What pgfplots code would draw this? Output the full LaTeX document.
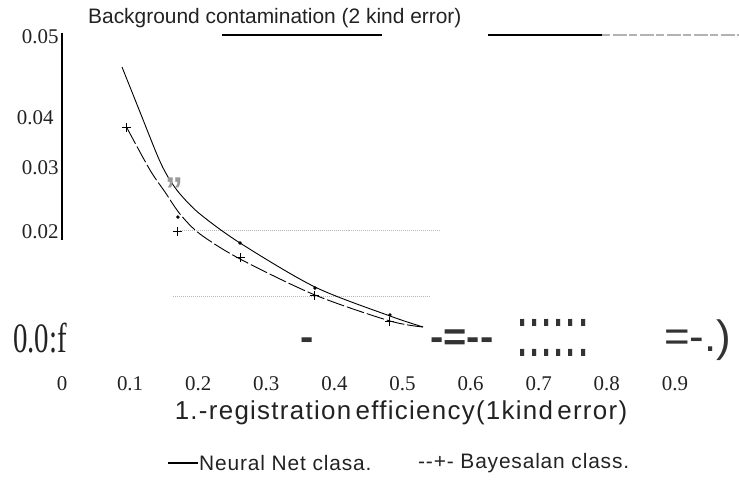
\documentclass[border=0pt]{standalone}
\usepackage{fontspec}
\setmainfont{Liberation Serif}
\newfontfamily\sans{Liberation Sans}
\usepackage{pgfplots}
\pgfplotsset{compat=1.18}
\definecolor{txt}{HTML}{222222}
\definecolor{garb}{HTML}{333333}
\begin{document}
\begin{tikzpicture}
\begin{axis}[
  at={(62bp,112bp)}, anchor=south west,
  scale only axis, width=677.6bp, height=333bp,
  xmin=0, xmax=0.995, ymin=0, ymax=0.05,
  clip=false,
  axis line style={draw=none},
  major tick length=0pt,
  scaled y ticks=false, scaled x ticks=false,
  xtick={0,0.1,0.2,0.3,0.4,0.5,0.6,0.7,0.8,0.9},
  xticklabels={0,0.1,0.2,0.3,0.4,0.5,0.6,0.7,0.8,0.9},
  ytick={0.02,0.03,0.04,0.05},
  yticklabels={{\vphantom{0}\smash{\raisebox{5bp}{0.02}}},{\vphantom{0}\smash{\raisebox{3bp}{0.03}}},{\vphantom{0}\smash{\raisebox{-14bp}{0.04\kern5bp}}},0.05},
  /pgf/number format/assume math mode=true,
  tick label style={font=\fontsize{21}{21}\selectfont, text=txt},
  xticklabel style={yshift=-3bp},
]
% decorative partial frame lines
\draw[black, line width=1.2bp] (axis cs:0,0.0506) -- (axis cs:0,0.0195);
\draw[black, line width=1.2bp] (axis cs:0.235,0.0503) -- (axis cs:0.470,0.0503);
\draw[black, line width=1.2bp] (axis cs:0.6256,0.0503) -- (axis cs:0.793,0.0503);
\draw[gray!60, line width=2.2bp, dash pattern=on 8bp off 3bp on 14bp off 2bp] (axis cs:0.793,0.0503) -- (axis cs:0.995,0.0503);
% dotted grey guide lines
\draw[gray!55, densely dotted, line width=1bp] (axis cs:0.173,0.0209) -- (axis cs:0.555,0.0209);
\draw[gray!55, densely dotted, line width=1bp] (axis cs:0.163,0.0110) -- (axis cs:0.540,0.0110);

% Neural Net classifier: curve
\addplot[black, line width=0.9bp, smooth] coordinates {
 (0.0881,0.04550) (0.1145,0.03874) (0.1410,0.03198) (0.1557,0.02898)
 (0.1733,0.02643) (0.2026,0.02342) (0.2614,0.01907) (0.3715,0.01246)
 (0.4816,0.00811) (0.5301,0.00646)
};
% Neural Net classifier: points
\addplot[only marks, black, mark=*, mark size=1.5bp] coordinates {
 (0.1703,0.02297) (0.2614,0.01907) (0.3715,0.01231) (0.4816,0.00826)
};
% Bayesian classifier: curve
\addplot[black, line width=0.9bp, smooth, dash pattern=on 18bp off 3bp] coordinates {
 (0.0954,0.03634) (0.1292,0.03003) (0.1512,0.02673) (0.1733,0.02342)
 (0.2026,0.02042) (0.2614,0.01667) (0.3715,0.01126) (0.4816,0.00736)
 (0.5301,0.00646)
};
% Bayesian classifier: points
\addplot[only marks, black, mark=+, mark size=4.5bp, mark options={line width=1bp}] coordinates {
 (0.0954,0.03634) (0.1703,0.02087) (0.2614,0.01682) (0.3715,0.01126) (0.4816,0.00721)
};
\end{axis}
% texts
\node[anchor=west, inner sep=0pt, font=\sans\fontsize{21}{21}\selectfont, text=txt] at (88bp,464bp) {Background contamination (2 kind error)};
\node[inner sep=0pt, font=\sans\fontsize{26}{26}\selectfont\addfontfeatures{LetterSpace=5}, text=txt] at (401bp,69bp) {1.-registration\,efficiency(1kind\,error)};
\draw[black, line width=1.3bp] (168bp,19bp) -- (198bp,19bp);
\node[anchor=west, inner sep=0pt, font=\sans\fontsize{21}{21}\selectfont\addfontfeatures{LetterSpace=4}, text=txt] at (199bp,19bp) {Neural Net clasa.};
\node[anchor=west, inner sep=0pt, font=\sans\fontsize{21}{21}\selectfont\addfontfeatures{LetterSpace=4}, text=txt] at (418bp,19bp) {-{}-+- Bayesalan class.};
% garbled scan row
\node[anchor=base west, inner sep=0pt, text=txt] at (13bp,129bp) {\scalebox{0.69}[1]{\fontsize{42}{42}\selectfont 0.0:f}};
\node[anchor=base, inner sep=0pt, text=garb, font=\sans\bfseries\fontsize{40}{40}\selectfont] at (307bp,131bp) {-};
\node[anchor=base west, inner sep=0pt, text=garb, font=\sans\bfseries\fontsize{40}{40}\selectfont] at (430bp,131bp) {-{}={}-{}-};
\node[anchor=base west, inner sep=0pt, text=garb, font=\sans\fontsize{44}{44}\selectfont] at (516bp,125bp) {\scalebox{1}[1.6]{::::::}};
\node[anchor=base west, inner sep=0pt, text=garb, font=\sans\fontsize{44}{44}\selectfont] at (664bp,130bp) {={}-.)};
\node[inner sep=0pt, text=gray!80, font=\sans\bfseries\fontsize{36}{36}\selectfont] at (174bp,292bp) {”};
\pgfresetboundingbox
\useasboundingbox (0,0) rectangle (739bp,482bp);
\end{tikzpicture}
\end{document}
